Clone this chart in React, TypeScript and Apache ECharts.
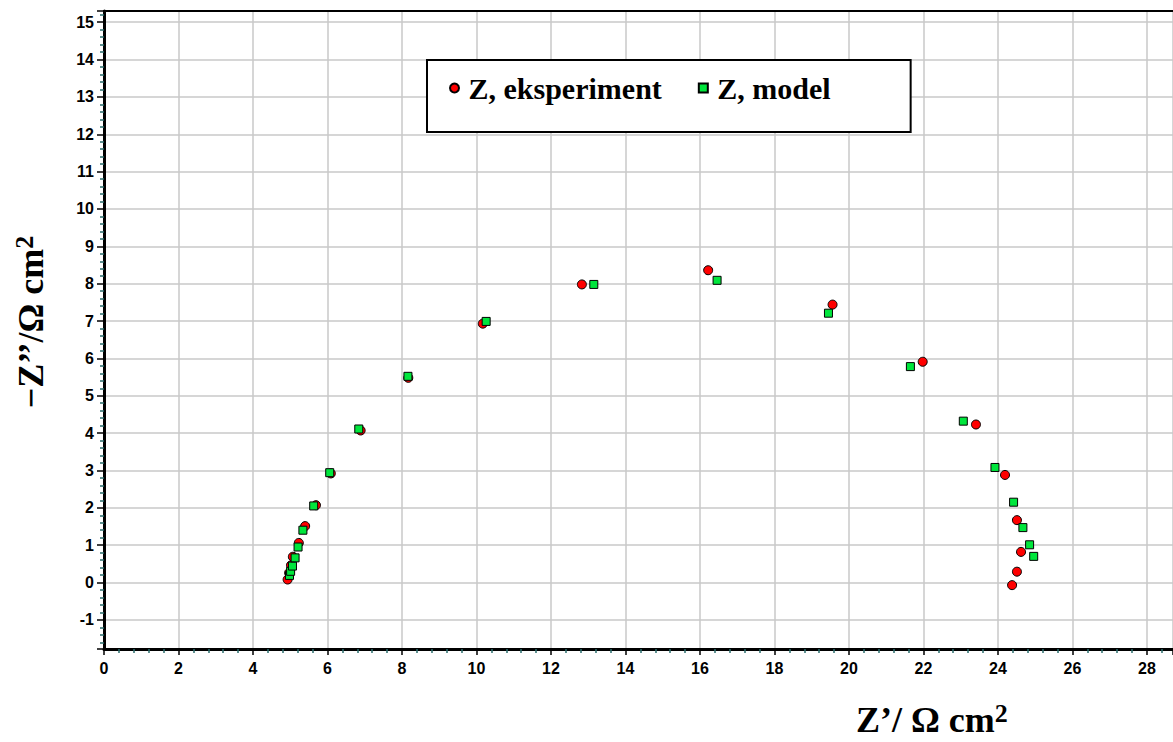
import React, { useEffect, useRef } from "react";
import * as echarts from "echarts";

// Z, eksperiment (red circles)
const expX = [4.93, 4.97, 5.02, 5.07, 5.23, 5.40, 5.69, 6.09, 6.89, 8.17, 10.17, 12.83, 16.22, 19.56, 21.98, 23.41, 24.19, 24.51, 24.62, 24.51, 24.38];
const expY = [0.08, 0.26, 0.46, 0.69, 1.06, 1.51, 2.07, 2.92, 4.07, 5.48, 6.93, 7.98, 8.36, 7.44, 5.91, 4.23, 2.88, 1.67, 0.82, 0.29, -0.07];
// Z, model (green squares)
const modelX = [4.98, 5.01, 5.06, 5.13, 5.21, 5.34, 5.63, 6.06, 6.84, 8.16, 10.26, 13.15, 16.46, 19.45, 21.65, 23.07, 23.92, 24.42, 24.67, 24.85, 24.96];
const modelY = [0.19, 0.30, 0.44, 0.66, 0.95, 1.40, 2.05, 2.94, 4.11, 5.52, 6.99, 7.98, 8.09, 7.21, 5.78, 4.32, 3.08, 2.15, 1.47, 1.01, 0.70];

const seriesNames = ["Z, eksperiment", "Z, model"];
const xAxisTitle = "Z’/ Ω cm";
const yAxisTitle = "−Z’’/Ω cm";
const unitPower = "2";

const X_MIN = 0, X_MAX = 28.7, Y_MIN = -1.78, Y_MAX = 15.3;

const SERIF = '"Liberation Serif", "Times New Roman", serif';
const SANS = '"Liberation Sans", Arial, sans-serif';
const SQUARE = "path://M0,0L10,0L10,10L0,10Z";

export default function App() {
  const ref = useRef<HTMLDivElement>(null);
  useEffect(() => {
    if (!ref.current) return;
    const chart = echarts.init(ref.current, null, { renderer: "svg" });
    const expData = expX.map((x, i) => [x, expY[i]]);
    const modelData = modelX.map((x, i) => [x, modelY[i]]);
    const tickLabel = { fontFamily: SANS, fontWeight: "bold" as const, fontSize: 16, color: "#000" };
    const richTitle = {
      a: { fontFamily: SERIF, fontWeight: "bold", fontSize: 36, color: "#000", lineHeight: 40 },
      s: { fontFamily: SERIF, fontWeight: "bold", fontSize: 26, color: "#000", verticalAlign: "top", lineHeight: 40 },
    };
    chart.setOption({
      animation: false,
      backgroundColor: "#fff",
      grid: { left: 104, top: 11, right: 0, bottom: 93, containLabel: false },
      xAxis: [
        {
          type: "value",
          min: X_MIN,
          max: X_MAX,
          interval: 2,
          axisLine: { show: true, onZero: false, lineStyle: { color: "#000", width: 3 } },
          axisTick: { show: true, length: 6, lineStyle: { color: "#000", width: 1.5 } },
          minorTick: { show: true, splitNumber: 5, length: 4, lineStyle: { color: "#2a6b6b", width: 1.5 } },
          axisLabel: { ...tickLabel, margin: 11, showMaxLabel: false },
          splitLine: { show: true, lineStyle: { color: "#c8c8c8", width: 1.5 } },
        },
        {
          type: "value",
          position: "top",
          min: X_MIN,
          max: X_MAX,
          interval: 2,
          axisLine: { show: true, onZero: false, lineStyle: { color: "#000", width: 2 } },
          axisTick: { show: false },
          axisLabel: { show: false },
          splitLine: { show: false },
        },
      ],
      yAxis: {
        type: "value",
        min: Y_MIN,
        max: Y_MAX,
        splitNumber: 17,
        minInterval: 1,
        maxInterval: 1,
        axisLine: { show: true, onZero: false, lineStyle: { color: "#000", width: 3 } },
        axisTick: { show: true, length: 7, lineStyle: { color: "#000", width: 1.5 } },
        minorTick: { show: true, splitNumber: 5, length: 4, lineStyle: { color: "#2a6b6b", width: 1.5 } },
        axisLabel: { ...tickLabel, margin: 10, showMinLabel: false, showMaxLabel: false },
        splitLine: { show: true, lineStyle: { color: "#c8c8c8", width: 1.5 } },
      },
      legend: {
        left: 427,
        top: 60,
        orient: "horizontal",
        padding: [13, 80, 29, 22],
        itemWidth: 18,
        itemHeight: 9,
        itemGap: 36,
        borderColor: "#000",
        borderWidth: 2,
        backgroundColor: "#fff",
        textStyle: { fontFamily: SERIF, fontWeight: "bold", fontSize: 30, color: "#000" },
        data: [
          { name: seriesNames[0], icon: "circle" },
          { name: seriesNames[1], icon: SQUARE },
        ],
      },
      graphic: [
        {
          type: "text",
          x: 856,
          y: 720,
          style: {
            text: `{a|${xAxisTitle}}{s|${unitPower}}`,
            rich: richTitle,
            align: "left",
            verticalAlign: "middle",
          },
        },
        {
          type: "text",
          x: 31,
          y: 322,
          rotation: Math.PI / 2,
          style: {
            text: `{a|${yAxisTitle}}{s|${unitPower}}`,
            rich: richTitle,
            align: "center",
            verticalAlign: "middle",
          },
        },
      ],
      series: [
        {
          name: seriesNames[0],
          type: "scatter",
          symbol: "circle",
          symbolSize: 9,
          data: expData,
          itemStyle: { color: "#ff0000", borderColor: "#000", borderWidth: 1, opacity: 1 },
        },
        {
          name: seriesNames[1],
          type: "scatter",
          symbol: "rect",
          symbolSize: 8,
          data: modelData,
          itemStyle: { color: "#00e63c", borderColor: "#000", borderWidth: 1, opacity: 1 },
        },
      ],
    });
    return () => chart.dispose();
  }, []);
  return (
    <div
      ref={ref}
      style={{ position: "absolute", left: 0, top: 0, width: 1173, height: 742, background: "#fff" }}
    />
  );
}
